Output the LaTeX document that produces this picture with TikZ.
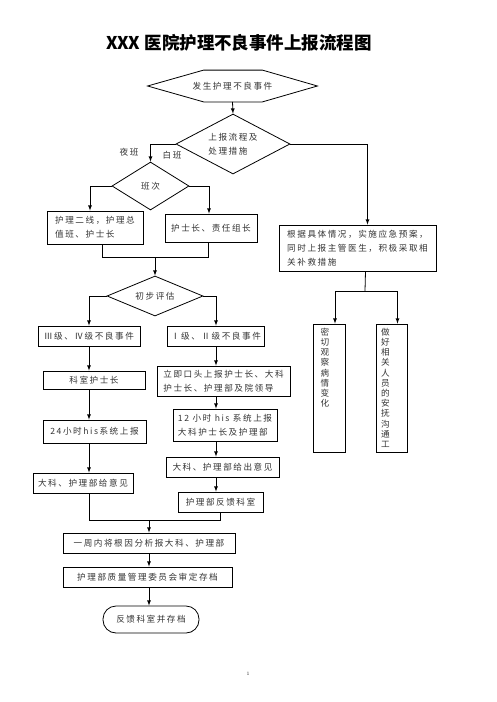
\documentclass[tikz,border=0pt]{standalone}
\usepackage{fontspec}
\newfontfamily\cjk[LetterSpace=18]{Noto Sans CJK SC}
\newfontfamily\cjktitle{Noto Sans CJK SC}
\usetikzlibrary{calc}
\usetikzlibrary{arrows}
\usetikzlibrary{shapes.geometric}

\begin{document}
\begin{tikzpicture}[x=1pt,y=-1pt,line width=0.8pt,
  every node/.style={font=\cjk\fontsize{8.6}{14}\selectfont,text=black!80,inner sep=0pt},
  box/.style={draw=black,align=left},
  dia/.style={draw=black,diamond,aspect=2,align=left},
  vbox/.style={draw=black,minimum width=32,minimum height=128},
  vtext/.style={anchor=north,align=center,font=\cjk\fontsize{8.6}{10.2}\selectfont}]

\useasboundingbox (0,0) rectangle (496,702);

\node (title) at (239,43) [font=\cjktitle\bfseries\fontsize{17.5}{19}\selectfont,text=black] {XXX 医院护理不良事件上报流程图};

% start of the flow
\node (start) at (232.5,86) [minimum width=169,minimum height=31] {发生护理不良事件};
\draw (start.west) -- ([xshift=56]start.north west) -- ([xshift=-55]start.north east)
  -- (start.east) -- ([xshift=-55]start.south east) -- ([xshift=56]start.south west) -- cycle;

\node (proc) at (233,144) [dia,minimum width=114,minimum height=60] {上报流程及\\处理措施};
\node (shift) at (150.5,186) [dia,minimum width=77,minimum height=48] {班次};
\node (nightlbl) at (129,152) {夜班};
\node (daylbl) at (172,155) {白班};

\node (night) at (95,227.5) [box,minimum width=96,minimum height=33] {护理二线，护理总\\值班、护士长};
\node (day) at (211,228) [box,minimum width=92,minimum height=28] {护士长、责任组长};
\node (measure) at (357.5,248) [box,minimum width=157,minimum height=46] {根据具体情况，实施应急预案，\\同时上报主管医生，积极采取相\\关补救措施};

\node (assess) at (155,296) [dia,minimum width=96,minimum height=40] {初步评估};

% left column
\node (low) at (89,336) [box,minimum width=102,minimum height=20] {Ⅲ级、Ⅳ级不良事件};
\node (nurse) at (94,380) [box,minimum width=102,minimum height=18] {科室护士长};
\node (sys24) at (94.5,431.5) [box,minimum width=103,minimum height=23] {24小时his系统上报};
\node (opinion1) at (83,483) [box,minimum width=100,minimum height=20] {大科、护理部给意见};

% right column
\node (high) at (216,336) [box,minimum width=97,minimum height=20] {Ⅰ级、Ⅱ级不良事件};
\node (report) at (223.5,381) [box,minimum width=133,minimum height=30] {立即口头上报护士长、大科\\护士长、护理部及院领导};
\node (sys12) at (225,425) [box,minimum width=104,minimum height=32] {12 小时 his 系统上报\\大科护士长及护理部};
\node (opinion2) at (222.5,467) [box,minimum width=113,minimum height=20] {大科、护理部给出意见};
\node (feedback) at (220.5,502) [box,minimum width=85,minimum height=20] {护理部反馈科室};

% bottom
\node (week) at (149,543) [box,minimum width=172,minimum height=20] {一周内将根因分析报大科、护理部};
\node (committee) at (147.5,577) [box,minimum width=169,minimum height=20] {护理部质量管理委员会审定存档};
\node (archive) at (151,619.5) [box,rounded corners=13,minimum width=96,minimum height=27] {反馈科室并存档};

% vertical boxes
\node (observe) at (329,388) [vbox] {};
\node (observetxt) at ([xshift=-4,yshift=-4]observe.north) [vtext] {密\\切\\观\\察\\病\\情\\变\\化};
\node (comfort) at (391.5,388) [vbox,minimum width=31] {};
\node (comforttxt) at ([xshift=-6,yshift=-4]comfort.north) [vtext] {做\\好\\相\\关\\人\\员\\的\\安\\抚\\沟\\通\\工};

\node (pagenum) at (248,674) [font=\fontsize{5}{6}\selectfont] {1};

% connectors
\draw[-latex] (start.south) -- (proc.north);
\draw[-latex] (proc.west) -| (shift.north);
\draw[-latex] (proc.east) -| ([xshift=10]measure.north);
\draw[-latex] (shift.west) -| ([xshift=-5]night.north);
\draw[-latex] (shift.east) -| ([xshift=-2]day.north);
\coordinate (j1) at (155,257);
\draw ([xshift=7]night.south) |- (j1);
\draw ([xshift=-3]day.south) |- (j1);
\draw[-latex] (j1) -- (assess.north);
\draw[-latex] (assess.west) -| (low.north);
\draw[-latex] (assess.east) -| (high.north);
\draw[-latex] (low.south) -- (low.south |- nurse.north);
\draw[-latex] (low.south |- nurse.south) -- (low.south |- sys24.north);
\draw[-latex] (low.south |- sys24.south) -- (low.south |- opinion1.north);
\draw[-latex] (high.south) -- (high.south |- report.north);
\draw[-latex] (high.south |- report.south) -- (high.south |- sys12.north);
\draw[-latex] (high.south |- sys12.south) -- (high.south |- opinion2.north);
\draw[-latex] (high.south |- opinion2.south) -- (high.south |- feedback.north);
\coordinate (j2) at (149,520);
\draw (low.south |- opinion1.south) |- (j2);
\draw (feedback.south) |- (j2);
\draw[-latex] (j2) -- (week.north);
\draw[-latex] (week.south) -- (week.south |- committee.north);
\draw[-latex] (week.south |- committee.south) -- (week.south |- archive.north);
\coordinate (j3) at (365,291);
\draw ([xshift=8]measure.south) -- (j3);
\draw[-latex] (j3) -| ([xshift=6]observe.north);
\draw[-latex] (j3) -| ([xshift=6]comfort.north);

\end{tikzpicture}
\end{document}
